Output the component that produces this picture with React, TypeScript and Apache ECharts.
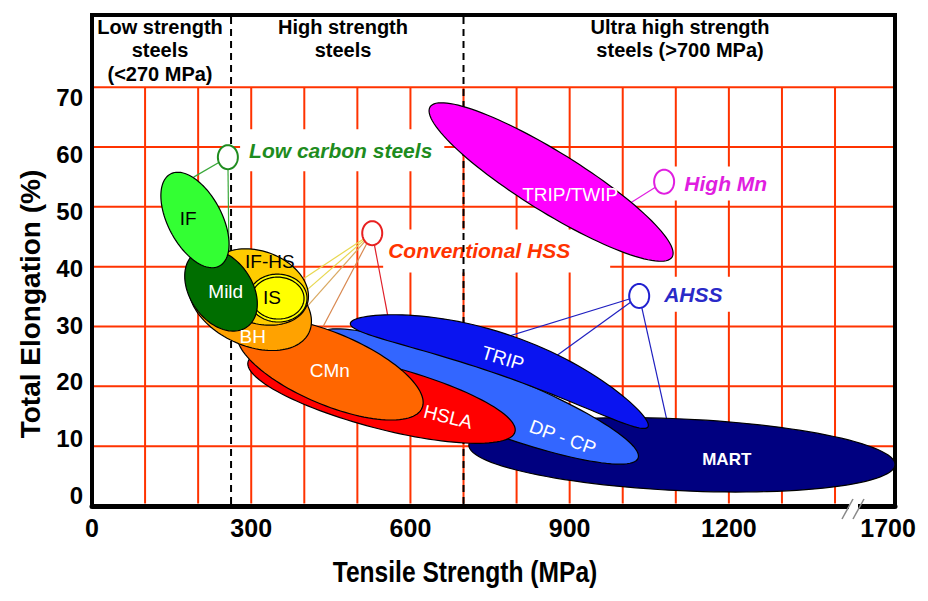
import React, { useEffect, useRef } from 'react';
import * as echarts from 'echarts';

// ---------- axes ----------
const X_TICKS = [0, 300, 600, 900, 1200, 1500];
const X_TICK_LABELS = ['0', '300', '600', '900', '1200', '1700']; // broken axis: last tick reads 1700
const Y_TICKS = [0, 10, 20, 30, 40, 50, 60, 70];
const X_GRID = [100, 200, 300, 400, 500, 600, 700, 800, 900, 1000, 1100, 1200, 1300, 1400];
const Y_GRID = [10, 20, 30, 40, 50, 60, 70];
const X_MAX = 1513;
const Y_MAX = 82.06;
const CLASS_LIMITS = [262, 700]; // MPa, dashed boundaries

// ---------- steel families (ellipses), [tensile MPa, elongation %] ----------
const GRADES = ['MART', 'DP - CP', 'TRIP', 'HSLA', 'CMn', 'BH', 'IF-HS', 'IS', 'Mild', 'IF', 'TRIP/TWIP'];
const AXIS_FROM = [
  [710, 10.2], [426, 28.6], [487, 30.6], [294, 24.1], [275, 29.4], [187, 38.2],
  [220, 39.6], [301, 34.9], [194.5, 42.3], [148, 55.5], [637, 66.7],
];
const AXIS_TO = [
  [1513, 6.9], [1029, 8.0], [1048, 13.3], [797, 12.4], [622, 16.4], [409, 29.0],
  [405, 33.6], [399.5, 34.6], [291.7, 29.9], [240, 40.1], [1093, 41.6],
];
const HALF_WIDTH = [6.0, 5.0, 3.4, 5.3, 6.0, 6.7, 6.0, 3.5, 5.2, 4.5, 5.0]; // % elongation
const BEND = [0, 0, -3.4, 0, 0, 0, 0, 0, 0, 0, 0]; // mid-length sag of the family band, % elongation
const LABEL_AT = [
  [1196, 7.7], [887, 11.5], [774, 24.7], [671, 14.9], [448, 22.7], [303, 28.4],
  [335, 40.8], [339, 34.8], [252, 35.9], [181, 48.1], [901, 52.0],
];

// ---------- family annotations ----------
const GROUPS = ['Low carbon steels', 'Conventional HSS', 'High Mn', 'AHSS'];
const GROUP_MARKER = [[256, 58.3], [528, 45.6], [1078, 54.2], [1031, 35.1]];
const GROUP_TEXT_AT = [[296, 58.2], [558, 42.8], [1116, 54.0], [1078, 34.9]];
const GROUP_LEADERS = [
  [[198, 55.3], [258, 42.5]],
  [[392, 37.6], [401, 35.8], [403, 33.1], [439, 30.6], [556, 32.4]],
  [[1017, 50.8]],
  [[774, 28.1], [869, 24.7], [1083, 14.4]],
];

// ---------- styles ----------
const FONT = "'Liberation Sans', Arial, Helvetica, sans-serif";
const FILL = ['#000080', '#3366FF', '#0A14F0', '#FF0000', '#FF6600', '#FFA200', '#FFCC00', '#FFFF00', '#006E00', '#33FF33', '#FF00FF'];
const TEXT_FILL = ['#fff', '#fff', '#fff', '#fff', '#fff', '#fff', '#000', '#000', '#fff', '#000', '#fff'];
const TEXT_ROT = [0, 20, 17, 14, 0, 0, 0, 0, 0, 0, 0];
const TEXT_WEIGHT = ['bold', 'normal', 'normal', 'normal', 'normal', 'normal', 'normal', 'normal', 'normal', 'normal', 'normal'];
const TEXT_SIZE = [17, 19, 19, 19, 19, 19, 19, 19, 19, 19, 19];
const GROUP_COLOR = ['#1E8C1E', '#FF3300', '#E01EE0', '#2A2AC8'];
const MARKER_COLOR = ['#1E8C1E', '#E82020', '#E01EE0', '#2020D0'];
const LEADER_COLOR = [
  ['#3AA83A', '#3AA83A'],
  ['#E8D850', '#E8D850', '#D9A860', '#D98850', '#E0202A'],
  ['#E01EE0'],
  ['#2020C0', '#2020C0', '#2020C0'],
];
const BOX_PAD = [[18, 12, 3, 9], [10, 40, 12, 5], [6, 4, 7, 32], [10, 19, 4, 14]];
const GRID_COLOR = '#FF3300';

// ellipse (optionally bent into a banana) around centre, along angle phi
function bandPoints(cx: number, cy: number, rx: number, ry: number, phi: number, bend = 0, n = 120) {
  const pts: number[][] = [];
  const c = Math.cos(phi), s = Math.sin(phi);
  for (let k = 0; k < n; k++) {
    const t = (k / n) * Math.PI * 2;
    const u = Math.cos(t);
    const ex = rx * u;
    const ey = ry * Math.sin(t) + bend * (1 - u * u);
    pts.push([cx + ex * c - ey * s, cy + ex * s + ey * c]);
  }
  return pts;
}

function buildOption() {
  const gridData = [...X_GRID.map((v) => [v, 0]), ...Y_GRID.map((v) => [0, v])];
  const leaderData: number[][] = [];
  GROUP_LEADERS.forEach((arr, g) => arr.forEach((_, l) => leaderData.push([g, l])));

  return {
    animation: false,
    backgroundColor: '#fff',
    grid: { left: 92, top: 15, width: 803, height: 491, show: true, borderColor: '#000', borderWidth: 4 },
    xAxis: {
      type: 'value', min: 0, max: X_MAX, interval: 300, z: 10,
      axisLine: { show: true, lineStyle: { color: '#000', width: 5 } },
      axisTick: { show: false }, splitLine: { show: false },
      axisLabel: {
        formatter: (v: number) => { const i = X_TICKS.indexOf(v); return i >= 0 ? X_TICK_LABELS[i] : ''; },
        fontSize: 25, fontWeight: 'bold', color: '#000', fontFamily: FONT, margin: 9,
      },
    },
    yAxis: [
      {
        type: 'value', min: 0, max: Y_MAX, z: 10,
        axisLine: { show: true, lineStyle: { color: '#000', width: 4 } },
        axisTick: { show: false }, splitLine: { show: false }, axisLabel: { show: false },
      },
      {
        type: 'value', min: -1.849, max: 84.61, splitNumber: 9, position: 'left',
        axisLine: { show: false }, axisTick: { show: false }, splitLine: { show: false },
        axisLabel: {
          formatter: (v: number) => (Y_TICKS.indexOf(v) >= 0 ? String(v) : ''),
          fontSize: 24, fontWeight: 'bold', color: '#000', fontFamily: FONT, margin: 9,
        },
      },
    ],
    graphic: [
      { type: 'text', x: 160, y: 15, z: 50, style: { text: 'Low strength\nsteels\n(<270 MPa)', fill: '#000', font: `bold 20px ${FONT}`, lineHeight: 23.5, align: 'center', textAlign: 'center', verticalAlign: 'top', textVerticalAlign: 'top' } },
      { type: 'text', x: 343, y: 15, z: 50, style: { text: 'High strength\nsteels', fill: '#000', font: `bold 20px ${FONT}`, lineHeight: 23.5, align: 'center', textAlign: 'center', verticalAlign: 'top', textVerticalAlign: 'top' } },
      { type: 'text', x: 680, y: 15, z: 50, style: { text: 'Ultra high strength\nsteels (>700 MPa)', fill: '#000', font: `bold 20px ${FONT}`, lineHeight: 23.5, align: 'center', textAlign: 'center', verticalAlign: 'top', textVerticalAlign: 'top' } },
      { type: 'text', x: 30, y: 304, rotation: Math.PI / 2, z: 50, style: { text: 'Total Elongation (%)', fill: '#000', font: `bold 28px ${FONT}`, align: 'center', textAlign: 'center', verticalAlign: 'middle', textVerticalAlign: 'middle' } },
      { type: 'text', x: 465, y: 572, scaleX: 0.82, z: 50, style: { text: 'Tensile Strength (MPa)', fill: '#000', font: `bold 30px ${FONT}`, align: 'center', textAlign: 'center', verticalAlign: 'middle', textVerticalAlign: 'middle' } },
      { type: 'rect', z: 60, shape: { x: 849, y: 500, width: 9, height: 12 }, style: { fill: '#fff' } },
      { type: 'line', z: 61, shape: { x1: 842, y1: 519, x2: 853, y2: 499 }, style: { stroke: '#888', lineWidth: 1.5 } },
      { type: 'line', z: 61, shape: { x1: 853, y1: 519, x2: 864, y2: 499 }, style: { stroke: '#888', lineWidth: 1.5 } },
    ],
    series: [
      {
        type: 'custom', name: 'grid', z: 1, silent: true, data: gridData,
        renderItem: (params: any, api: any) => {
          const i = params.dataIndex;
          if (i < X_GRID.length) {
            const v = X_GRID[i];
            const a = api.coord([v, 70]), b = api.coord([v, 0]);
            return { type: 'line', shape: { x1: a[0], y1: a[1], x2: b[0], y2: b[1] - 2.5 }, style: { stroke: GRID_COLOR, lineWidth: 2 } };
          }
          const v = Y_GRID[i - X_GRID.length];
          const a = api.coord([0, v]), b = api.coord([X_MAX, v]);
          return { type: 'line', shape: { x1: a[0] + 2, y1: a[1], x2: b[0] - 2, y2: b[1] }, style: { stroke: GRID_COLOR, lineWidth: 2 } };
        },
      },
      {
        type: 'custom', name: 'boxes', z: 2, silent: true, data: GROUP_TEXT_AT,
        renderItem: (params: any, api: any) => {
          const i = params.dataIndex;
          const p = api.coord(GROUP_TEXT_AT[i]);
          const pad = BOX_PAD[i];
          return {
            type: 'text', x: p[0] - pad[3], y: p[1] - (pad[0] - pad[2]) / 2,
            style: {
              text: GROUPS[i], fill: GROUP_COLOR[i], fontSize: 21, fontWeight: 'bold', fontStyle: 'italic', fontFamily: FONT,
              backgroundColor: '#fff', padding: pad, align: 'left', textAlign: 'left', verticalAlign: 'middle', textVerticalAlign: 'middle',
            },
          };
        },
      },
      {
        type: 'custom', name: 'limits', z: 3, silent: true, data: CLASS_LIMITS.map((v) => [v, 0]),
        renderItem: (params: any, api: any) => {
          const v = CLASS_LIMITS[params.dataIndex];
          const a = api.coord([v, Y_MAX]), b = api.coord([v, 0]);
          return { type: 'line', shape: { x1: a[0], y1: a[1] + 2, x2: b[0], y2: b[1] - 2 }, style: { stroke: '#000', lineWidth: 2, lineDash: [7, 5] } };
        },
      },
      {
        type: 'custom', name: 'leaders', z: 4, silent: true, data: leaderData,
        renderItem: (params: any, api: any) => {
          const [g, l] = leaderData[params.dataIndex];
          const a = api.coord(GROUP_MARKER[g]);
          const b = api.coord(GROUP_LEADERS[g][l]);
          const d = Math.hypot(b[0] - a[0], b[1] - a[1]) || 1;
          const ex = 4 / d;
          return { type: 'line', shape: { x1: a[0], y1: a[1], x2: b[0] + (b[0] - a[0]) * ex, y2: b[1] + (b[1] - a[1]) * ex }, style: { stroke: LEADER_COLOR[g][l], lineWidth: 1.2 } };
        },
      },
      {
        type: 'custom', name: 'families', z: 5, silent: true, data: AXIS_FROM,
        renderItem: (params: any, api: any) => {
          const i = params.dataIndex;
          const a = api.coord(AXIS_FROM[i]), b = api.coord(AXIS_TO[i]);
          const cx = (a[0] + b[0]) / 2, cy = (a[1] + b[1]) / 2;
          const rx = Math.hypot(b[0] - a[0], b[1] - a[1]) / 2;
          const ry = api.size([0, HALF_WIDTH[i]])[1];
          const bend = Math.sign(BEND[i]) * api.size([0, Math.abs(BEND[i])])[1];
          const phi = Math.atan2(b[1] - a[1], b[0] - a[0]);
          const children: any[] = [];
          if (GRADES[i] === 'IS') {
            children.push({ type: 'polygon', shape: { points: bandPoints(cx, cy, rx + 3, ry + 3, phi) }, style: { fill: FILL[i], stroke: '#000', lineWidth: 1.2 } });
          }
          children.push({ type: 'polygon', shape: { points: bandPoints(cx, cy, rx, ry, phi, bend) }, style: { fill: FILL[i], stroke: '#000', lineWidth: 1.2 } });
          return { type: 'group', children };
        },
      },
      {
        type: 'custom', name: 'familyLabels', z: 6, silent: true, data: LABEL_AT,
        renderItem: (params: any, api: any) => {
          const i = params.dataIndex;
          const p = api.coord(LABEL_AT[i]);
          return {
            type: 'text', x: p[0], y: p[1], rotation: (-TEXT_ROT[i] * Math.PI) / 180,
            style: { text: GRADES[i], fill: TEXT_FILL[i], fontSize: TEXT_SIZE[i], fontWeight: TEXT_WEIGHT[i], fontFamily: FONT, align: 'center', textAlign: 'center', verticalAlign: 'middle', textVerticalAlign: 'middle' },
          };
        },
      },
      {
        type: 'custom', name: 'markers', z: 7, silent: true, data: GROUP_MARKER,
        renderItem: (params: any, api: any) => {
          const i = params.dataIndex;
          const p = api.coord(GROUP_MARKER[i]);
          return { type: 'polygon', shape: { points: bandPoints(p[0], p[1], 10, 12, 0, 0, 48) }, style: { fill: '#fff', stroke: MARKER_COLOR[i], lineWidth: 2 } };
        },
      },
    ],
  };
}

export default function App() {
  const ref = useRef<HTMLDivElement>(null);
  useEffect(() => {
    const chart = echarts.init(ref.current!, null, { renderer: 'svg' });
    chart.setOption(buildOption() as any);
    return () => chart.dispose();
  }, []);
  return <div ref={ref} style={{ position: 'fixed', left: 0, top: 0, width: 928, height: 601 }} />;
}
